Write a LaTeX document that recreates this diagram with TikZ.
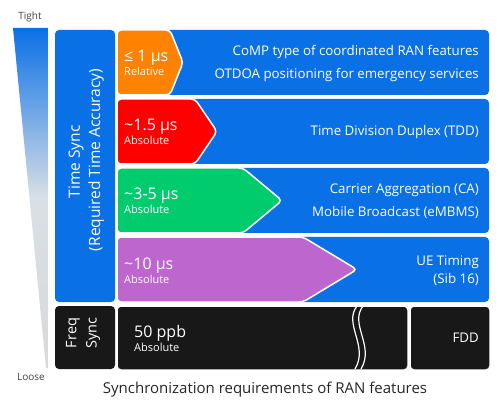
\documentclass[tikz,border=0pt]{standalone}
\usepackage{fontspec}
\setmainfont{Open Sans}
\usetikzlibrary{shapes.geometric}
\definecolor{gblue}{RGB}{10,112,230}
\definecolor{gorange}{RGB}{255,130,0}
\definecolor{gred}{RGB}{255,0,0}
\definecolor{ggreen}{RGB}{0,204,110}
\definecolor{gpurple}{RGB}{188,102,206}
\definecolor{gblack}{RGB}{24,24,24}
\tikzset{
  rowbox/.style={fill=gblue, rounded corners=4pt},
  tag/.style={draw=white, line width=1.5pt, rounded corners=4pt},
  feat/.style={text=white, font=\fontsize{13.3}{15}\selectfont, anchor=east, inner sep=0pt},
  val/.style={text=white, font=\fontsize{16}{18}\selectfont, anchor=base west, inner sep=0pt},
  sub/.style={text=white, font=\fontsize{11}{13}\selectfont, anchor=base west, inner sep=0pt},
  side/.style={text=white, font=\fontsize{15.5}{17}\selectfont, rotate=90, inner sep=0pt},
}
\begin{document}
\begin{tikzpicture}[x=1pt,y=-1pt]
\useasboundingbox (0,0) rectangle (500,403);
% gradient wedge
\shade[top color=gblue, bottom color=black!15, middle color=gblue!40!black!15] (13,28) -- (48,28) -- (48,368) -- (46,368) -- cycle;
\node[font=\fontsize{10}{12}\selectfont, text=black!75] (tight) at (30,17) {Tight};
\node[font=\fontsize{10}{12}\selectfont, text=black!75] (loose) at (31,377) {Loose};
% left panels
\fill[rowbox] (55,30) rectangle (115,302);
\fill[gblack, rounded corners=4pt] (55,306) rectangle (115,369);
\node[side] (ts1) at (76,162) {Time Sync};
\node[side] (ts2) at (96,160) {(Required Time Accuracy)};
\node[side, font=\fontsize{14.5}{16}\selectfont] (fs1) at (73,333) {Freq};
\node[side, font=\fontsize{14.5}{16}\selectfont] (fs2) at (93,333) {Sync};
% blue rows
\fill[rowbox] (150,30) rectangle (489,95);
\fill[rowbox] (150,99) rectangle (489,164);
\fill[rowbox] (150,168) rectangle (489,233);
\fill[rowbox] (150,237) rectangle (489,302);
% colored tags
\filldraw[tag, fill=gorange] (117,30) -- (170,30) -- (183,62.5) -- (170,95) -- (117,95) -- cycle;
\filldraw[tag, fill=gred] (117,99) -- (195,99) -- (217,131.5) -- (195,164) -- (117,164) -- cycle;
\filldraw[tag, fill=ggreen] (117,168) -- (243,168) -- (282,200.5) -- (243,233) -- (117,233) -- cycle;
\filldraw[tag, fill=gpurple] (117,237) -- (303,237) -- (357,269.5) -- (303,302) -- (117,302) -- cycle;
% black row
\filldraw[tag, fill=gblack] (117,306) rectangle (408,370);
\filldraw[tag, fill=gblack] (410,306) rectangle (490,370);
\draw[white, line width=1.2pt] (357,306) .. controls (343,324) and (369,346) .. (355,369);
\draw[white, line width=1.2pt] (363,306) .. controls (349,324) and (375,346) .. (361,369);
% values
\node[val] (v1) at (124,62) {≤ 1 µs};
\node[sub] (s1) at (124,76) {Relative};
\node[val] (v2) at (124,131) {\textasciitilde1.5 µs};
\node[sub] (s2) at (124,145) {Absolute};
\node[val] (v3) at (124,200) {\textasciitilde3-5 µs};
\node[sub] (s3) at (124,214) {Absolute};
\node[val] (v4) at (124,269) {\textasciitilde10 µs};
\node[sub] (s4) at (124,283) {Absolute};
\node[val] (v5) at (134,337) {50 ppb};
\node[sub] (s5) at (134,351) {Absolute};
% features
\node[feat] (f1) at (479,52) {CoMP type of coordinated RAN features};
\node[feat] (f2) at (479,75) {OTDOA positioning for emergency services};
\node[feat] (f3) at (479,132) {Time Division Duplex (TDD)};
\node[feat] (f4) at (479,190) {Carrier Aggregation (CA)};
\node[feat] (f5) at (479,213) {Mobile Broadcast (eMBMS)};
\node[feat] (f6) at (479,262) {UE Timing};
\node[feat] (f7) at (479,279) {(Sib 16)};
\node[feat] (f8) at (479,338) {FDD};
% caption
\node[font=\fontsize{15}{17}\selectfont, text=black!85] (cap) at (265,390) {Synchronization requirements of RAN features};
\end{tikzpicture}
\end{document}
